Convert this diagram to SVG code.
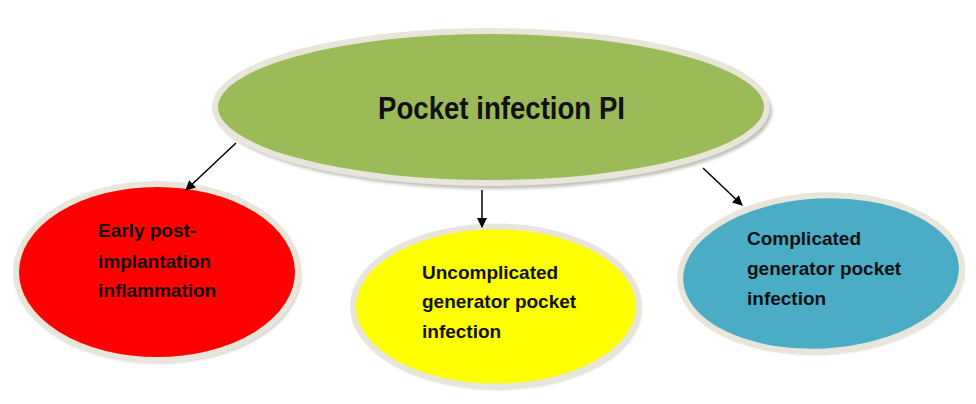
<svg xmlns="http://www.w3.org/2000/svg" width="976" height="404" viewBox="0 0 976 404">
  <style>
    .shadow { fill: #8f8f86; opacity: 0.55; filter: url(#blur); }
    .node { stroke: #E8E6DA; stroke-width: 6; }
    .label { font-family: "Liberation Sans", Arial, sans-serif; font-weight: bold; font-size: 19px; fill: #111111; }
    .title { font-family: "Liberation Sans", Arial, sans-serif; font-weight: bold; font-size: 31px; fill: #111111; }
    .conn { stroke: #000000; stroke-width: 1.5; fill: none; marker-end: url(#arrow); }
  </style>
  <defs>
    <filter id="blur" x="-10%" y="-10%" width="120%" height="120%">
      <feGaussianBlur stdDeviation="1.5"/>
    </filter>
    <marker id="arrow" viewBox="0 0 10 10" refX="9" refY="5" markerWidth="11" markerHeight="10" markerUnits="userSpaceOnUse" orient="auto">
      <path d="M0,0 L10,5 L0,10 Z" fill="#000000"/>
    </marker>
  </defs>
  <rect width="976" height="404" fill="#ffffff"/>

  <g id="node-pocket-infection">
    <ellipse class="shadow" cx="494" cy="111" rx="278" ry="78"/>
    <ellipse class="node" cx="491" cy="107" rx="276" ry="76" fill="#9BBB59"/>
    <text class="title" x="378" y="119" textLength="247" lengthAdjust="spacingAndGlyphs">Pocket infection PI</text>
  </g>

  <g id="node-early">
    <ellipse class="shadow" cx="159" cy="275" rx="142" ry="88"/>
    <ellipse class="node" cx="157" cy="272" rx="141" ry="88" fill="#FF0000"/>
    <text class="label" x="98" y="237">Early post-</text>
    <text class="label" x="98" y="268">implantation</text>
    <text class="label" x="98" y="297">inflammation</text>
  </g>

  <g id="node-uncomplicated">
    <ellipse class="shadow" cx="498" cy="309" rx="143" ry="80"/>
    <ellipse class="node" cx="496" cy="306.5" rx="143" ry="80" fill="#FFFF00"/>
    <text class="label" x="422" y="279">Uncomplicated</text>
    <text class="label" x="422" y="308">generator pocket</text>
    <text class="label" x="422" y="338">infection</text>
  </g>

  <g id="node-complicated">
    <g transform="rotate(-3 821 273.5)">
      <ellipse class="shadow" cx="823" cy="276" rx="141" ry="78"/>
      <ellipse class="node" cx="821" cy="273.5" rx="141" ry="78" fill="#4BACC6"/>
    </g>
    <text class="label" x="747" y="245">Complicated</text>
    <text class="label" x="747" y="275">generator pocket</text>
    <text class="label" x="747" y="305">infection</text>
  </g>

  <g id="connectors">
    <line class="conn" x1="236" y1="143" x2="186" y2="190"/>
    <line class="conn" x1="482" y1="190" x2="482" y2="227"/>
    <line class="conn" x1="703" y1="168" x2="742" y2="205"/>
  </g>
</svg>
